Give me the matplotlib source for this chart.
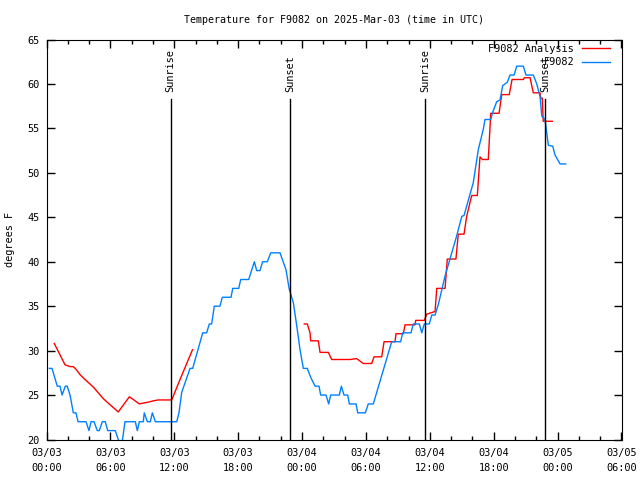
import matplotlib
matplotlib.use("Agg")
import matplotlib.pyplot as plt

# hours since 2025-03-03 00:00 UTC, temperature in degrees F
obs_h = [0.26, 0.52, 1.01, 1.27, 1.46, 1.77, 1.95, 2.21, 2.52, 2.77, 2.96, 3.71, 3.99, 4.18,
         4.46, 4.77, 4.96, 5.24, 5.52, 5.75, 6.46, 7.02, 7.37, 8.34, 8.53, 8.72, 9.09, 9.18,
         9.47, 9.75, 9.94, 10.22, 12.23, 12.44, 12.70, 13.48, 13.73, 14.67, 15.04, 15.29,
         15.51, 15.76, 16.29, 16.51, 17.33, 17.49, 18.05, 18.24, 18.99, 19.52, 19.74, 20.05,
         20.30, 20.74, 21.06, 21.93, 22.49, 22.80, 23.18, 23.50, 23.81, 24.12, 24.49, 24.81,
         25.22, 25.59, 25.75, 26.25, 26.50, 26.69, 27.50, 27.69, 27.94, 28.29, 28.44, 29.07,
         29.23, 29.94, 30.22, 30.69, 32.42, 33.26, 33.45, 34.23, 34.45, 35.01, 35.24, 35.48,
         35.95, 36.18, 36.49, 36.80, 37.43, 38.52, 39.00, 39.21, 40.08, 40.55, 41.02, 41.18,
         41.72, 41.96, 42.28, 42.59, 42.84, 43.28, 43.53, 43.91, 44.16, 44.78, 45.03, 45.72,
         46.04, 46.35, 46.51, 46.82, 47.13, 47.54, 47.76, 48.23, 48.76]
obs_t = [28, 28, 26, 26, 25, 26, 26, 25, 23, 23, 22, 22, 21, 22,
         22, 21, 21, 22, 22, 21, 21, 19, 22, 22, 21, 22, 22, 23,
         22, 22, 23, 22, 22, 23, 25.3, 28, 28, 32, 32, 33,
         33, 35, 35, 36, 36, 37, 37, 38, 38, 40, 39, 39,
         40, 40, 41, 41, 39.1, 36.9, 35.4, 32.8, 30.1, 28, 28, 27,
         26, 26, 25, 25, 24, 25, 25, 26, 25, 25, 24, 24,
         23, 23, 24, 24, 31, 31, 32, 32, 33, 33, 32, 33,
         33, 34, 34, 35.2, 38.4, 42.9, 45.1, 45.2, 48.9, 52.6, 54.9, 56,
         56, 57, 58, 58.2, 59.8, 60.2, 61, 61, 62, 62, 61, 61,
         60, 58.6, 56.4, 56, 53.1, 53, 52, 51, 51]

# analysis series (None = gap)
ana_h = [0.73, 1.74, 2.21, 2.52, 2.77, 3.15, 3.62, 4.40, 5.33, 6.12, 6.74, 7.78, 8.15, 8.72,
         9.09, 9.56, 10.03, 10.50, 11.76, 12.54, 13.71, 18.0,
         24.21, 24.49, 24.75, 24.81, 25.53, 25.69, 26.47, 26.78, 28.50, 29.13, 29.75, 30.54,
         30.76, 31.48, 31.70, 32.73, 32.82, 33.51, 33.67, 34.61, 34.67, 35.48, 35.71, 36.49,
         36.65, 37.43, 37.64, 38.45, 38.67, 39.21, 39.46, 39.93, 40.46, 40.71, 40.93, 41.49,
         41.72, 42.50, 42.75, 43.46, 43.72, 44.78, 44.87, 45.41, 45.72, 46.35, 46.41, 46.56,
         46.65, 47.50]
ana_t = [30.8, 28.4, 28.2, 28.2, 27.9, 27.3, 26.75, 25.9, 24.6, 23.75, 23.1, 24.8, 24.5, 24.0,
         24.1, 24.2, 24.35, 24.45, 24.45, 26.75, 30.1, None,
         33, 33, 32, 31.1, 31.1, 29.8, 29.8, 29.0, 29.0, 29.1, 28.55, 28.55,
         29.3, 29.3, 31.0, 31.0, 31.9, 31.9, 32.9, 32.9, 33.4, 33.4, 34.1, 34.4,
         37, 37, 40.3, 40.3, 43.1, 43.1, 45.1, 47.45, 47.45, 51.8, 51.5, 51.5,
         56.7, 56.7, 58.8, 58.8, 60.5, 60.5, 60.7, 60.7, 59.0, 59.0, 58.4, 58.4,
         55.8, 55.8]
ana_t = [float('nan') if v is None else v for v in ana_t]

sun_h = [11.66, 22.87, 35.57, 46.82]
sun_lbl = ["Sunrise", "Sunset", "Sunrise", "Sunset"]

xtick_h = [0, 6, 12, 18, 24, 30, 36, 42, 48, 54]
xtick_lbl = ["03/03\n00:00", "03/03\n06:00", "03/03\n12:00", "03/03\n18:00", "03/04\n00:00",
             "03/04\n06:00", "03/04\n12:00", "03/04\n18:00", "03/05\n00:00", "03/05\n06:00"]

FONT = "DejaVu Sans Mono"
FS = 7.4
plt.rcParams['font.family'] = FONT

fig = plt.figure(figsize=(6.4, 4.8), dpi=100)
ax = fig.add_axes([46.5 / 640, 1 - 439.5 / 480, 575 / 640, 400 / 480])

ax.plot(ana_h, ana_t, color='#ff0000', lw=1.0, label='F9082 Analysis')
ax.plot(obs_h, obs_t, color='#0080ff', lw=1.0, label='F9082')

yfrac = (439.5 - 99.3) / 400
for h, lbl in zip(sun_h, sun_lbl):
    ax.axvline(h, ymin=0, ymax=yfrac, color='black', lw=1.0)
    ax.text(h, (439.5 - 92) / 400, lbl, transform=ax.get_xaxis_transform(),
            rotation=90, ha='center', va='bottom', fontsize=FS)

ax.set_xlim(0, 54)
ax.set_ylim(20, 65)
ax.set_xticks(xtick_h)
ax.set_xticklabels(xtick_lbl, fontsize=FS, linespacing=1.6)
ax.set_xticks(range(0, 55, 2), minor=True)
ax.set_yticks(range(20, 66, 5))
ax.tick_params(axis='y', labelsize=FS, pad=5)
ax.tick_params(which='both', direction='in', top=True, right=True)
ax.tick_params(which='major', length=6, width=1)
ax.tick_params(which='minor', length=3, width=1)
ax.tick_params(axis='x', pad=6)

ax.set_ylabel("degrees F", fontsize=FS)
ax.yaxis.set_label_coords(-0.054, 0.5)
ax.set_title("Temperature for F9082 on 2025-Mar-03 (time in UTC)", fontsize=7.2, pad=12)

ax.legend(loc='upper right', bbox_to_anchor=(0.98, 0.99), markerfirst=False, frameon=False,
          fontsize=FS, handlelength=2.7, borderaxespad=0, borderpad=0, labelspacing=0.35,
          handletextpad=0.8)

fig.savefig("out.png", dpi=100)
